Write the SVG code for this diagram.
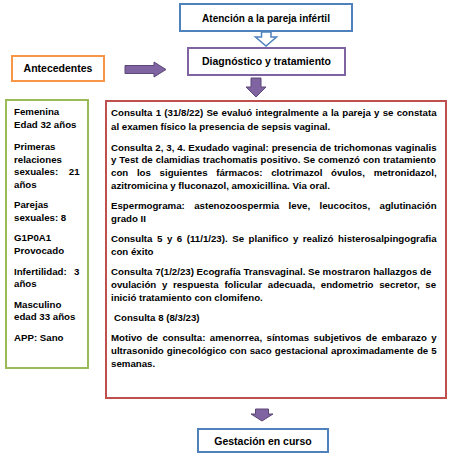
<svg xmlns="http://www.w3.org/2000/svg" width="455" height="458" viewBox="0 0 455 458">
<style>
text{font-family:"Liberation Sans",Arial,sans-serif;font-weight:bold;font-size:9.7px;fill:#000}
.c{text-anchor:middle;font-size:10px}
.box{fill:#fff;stroke-width:2}
.blue{stroke:#4f81bd}.purple{stroke:#8064a2}.orange{stroke:#f79646}.green{stroke:#9bbb59}.red{stroke:#c0504d}
.arr{fill:#8064a2;stroke:#5c4776;stroke-width:1}
.harr{fill:#fff;stroke:#4f81bd;stroke-width:1.5}
</style>
<rect width="455" height="458" fill="#fff"/>
<g id="connectors">
<path class="harr" d="M261.5,32 H271 V37 H276.5 L266,46 L255.5,37 H261.5 Z"/>
<path class="arr" d="M125,65.5 H154 V62 L166,69.5 L154,77 V73.5 H125 Z"/>
<path class="arr" d="M251,78 H261 V87 H266 L256,97 L246,87 H251 Z"/>
<path class="arr" d="M255.5,409 H268.5 V414 H273 L262,421 L251,414 H255.5 Z"/>
</g>
<g id="atencion">
<rect class="box blue" x="180" y="4" width="172" height="27"/>
<text class="c" x="266" y="21.5">Atención a la pareja infértil</text>
</g>
<g id="diagnostico">
<rect class="box purple" x="188" y="48" width="157" height="27"/>
<text class="c" x="266.5" y="65" style="font-size:10.5px">Diagnóstico y tratamiento</text>
</g>
<g id="antecedentes">
<rect class="box orange" x="12" y="56" width="92" height="25"/>
<text class="c" x="58" y="72" style="font-size:10.5px">Antecedentes</text>
</g>
<g id="datos">
<rect class="box green" x="6" y="100" width="82" height="268"/>
<text x="14" y="114.5">Femenina</text>
<text x="14" y="127.5">Edad 32 años</text>
<text x="14" y="149.5">Primeras</text>
<text x="14" y="162.5">relaciones</text>
<text x="14" y="174.5" word-spacing="8">sexuales: 21</text>
<text x="14" y="187.5">años</text>
<text x="14" y="207.5">Parejas</text>
<text x="14" y="220.5">sexuales: 8</text>
<text x="14" y="240.5">G1P0A1</text>
<text x="14" y="253.5">Provocado</text>
<text x="14" y="274.5" word-spacing="4.5">Infertilidad: 3</text>
<text x="14" y="286.5">años</text>
<text x="14" y="307.5">Masculino</text>
<text x="14" y="319.5">edad 33 años</text>
<text x="14" y="340.5">APP: Sano</text>
</g>
<g id="consultas">
<rect class="box red" x="106" y="101" width="340" height="297"/>
<text x="111" y="115.5" word-spacing="0.57">Consulta 1 (31/8/22) Se evaluó integralmente a la pareja y se constata</text>
<text x="111" y="129.5">al examen físico la presencia de sepsis vaginal.</text>
<text x="111" y="150.5" word-spacing="0.22">Consulta 2, 3, 4. Exudado vaginal: presencia de trichomonas vaginalis</text>
<text x="111" y="162.5" word-spacing="0.22">y Test de clamidias trachomatis positivo. Se comenzó con tratamiento</text>
<text x="111" y="175.5" word-spacing="6">con los siguientes fármacos: clotrimazol óvulos, metronidazol,</text>
<text x="111" y="188.5">azitromicina y fluconazol, amoxicillina. Via oral.</text>
<text x="111" y="208.5" word-spacing="6.7">Espermograma: astenozoospermia leve, leucocitos, aglutinación</text>
<text x="111" y="221.5">grado II</text>
<text x="111" y="241.5" word-spacing="1.84">Consulta 5 y 6 (11/1/23). Se planifico y realizó histerosalpingografia</text>
<text x="111" y="254.5">con éxito</text>
<text x="111" y="274.5">Consulta 7(1/2/23) Ecografía Transvaginal. Se mostraron hallazgos de</text>
<text x="111" y="287.5" word-spacing="2.98">ovulación y respuesta folicular adecuada, endometrio secretor, se</text>
<text x="111" y="300.5">inició tratamiento con clomifeno.</text>
<text x="114" y="320.5">Consulta 8 (8/3/23)</text>
<text x="111" y="340.5" word-spacing="1.74">Motivo de consulta: amenorrea, síntomas subjetivos de embarazo y</text>
<text x="111" y="353.5" word-spacing="0.29">ultrasonido ginecológico con saco gestacional aproximadamente de 5</text>
<text x="111" y="366.5">semanas.</text>
</g>
<g id="gestacion">
<rect class="box blue" x="198" y="429" width="130" height="23"/>
<text class="c" x="263" y="444.5" style="font-size:10.5px">Gestación en curso</text>
</g>
</svg>
